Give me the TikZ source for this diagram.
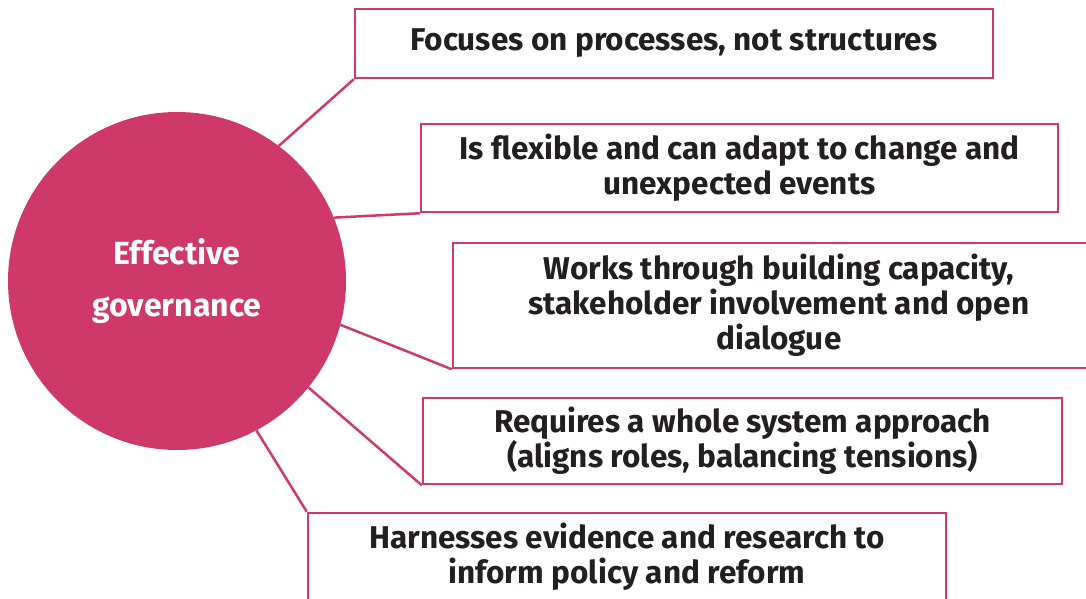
\documentclass[tikz,border=0pt]{standalone}
\usepackage{fontspec}
\setmainfont{Fira Sans}
\definecolor{pinkc}{RGB}{207,57,106}
\definecolor{txt}{RGB}{35,31,32}
\begin{document}
\begin{tikzpicture}[x=1pt,y=-1pt,
  boxstyle/.style={draw=pinkc,line width=2.5pt,fill=white,inner sep=0pt,align=center,
    font=\fontsize{31.5}{35}\selectfont\bfseries,text=txt},
  link/.style={draw=pinkc,line width=2.5pt}]
\useasboundingbox (0,0) rectangle (1086,599);
\node[circle,fill=pinkc,minimum size=338pt,inner sep=0pt,text=white,align=center,
  font=\fontsize{32}{52}\selectfont\bfseries] (c) at (177,281) {Effective\\governance};
\node[boxstyle,minimum width=638pt,minimum height=69pt] (b1) at (674,43.5) {Focuses on processes, not structures};
\node[boxstyle,minimum width=637pt,minimum height=88pt] (b2) at (739.5,168) {Is flexible and can adapt to change and\\unexpected events};
\node[boxstyle,minimum width=652pt,minimum height=125pt] (b3) at (779,305.5) {Works through building capacity,\\stakeholder involvement and open\\dialogue};
\node[boxstyle,minimum width=639pt,minimum height=86pt] (b4) at (742.5,441) {Requires a whole system approach\\(aligns roles, balancing tensions)};
\node[boxstyle,minimum width=638pt,minimum height=88pt] (b5) at (627,557) {Harnesses evidence and research to\\inform policy and reform};
\draw[link] (b1.south west) -- (c.53);
\draw[link] (b2.south west) -- (c.22);
\draw[link] (b3.south west) -- (c.-15);
\draw[link] (b4.south west) -- (c.-39);
\draw[link] (b5.north west) -- (c.-62);
\end{tikzpicture}
\end{document}
